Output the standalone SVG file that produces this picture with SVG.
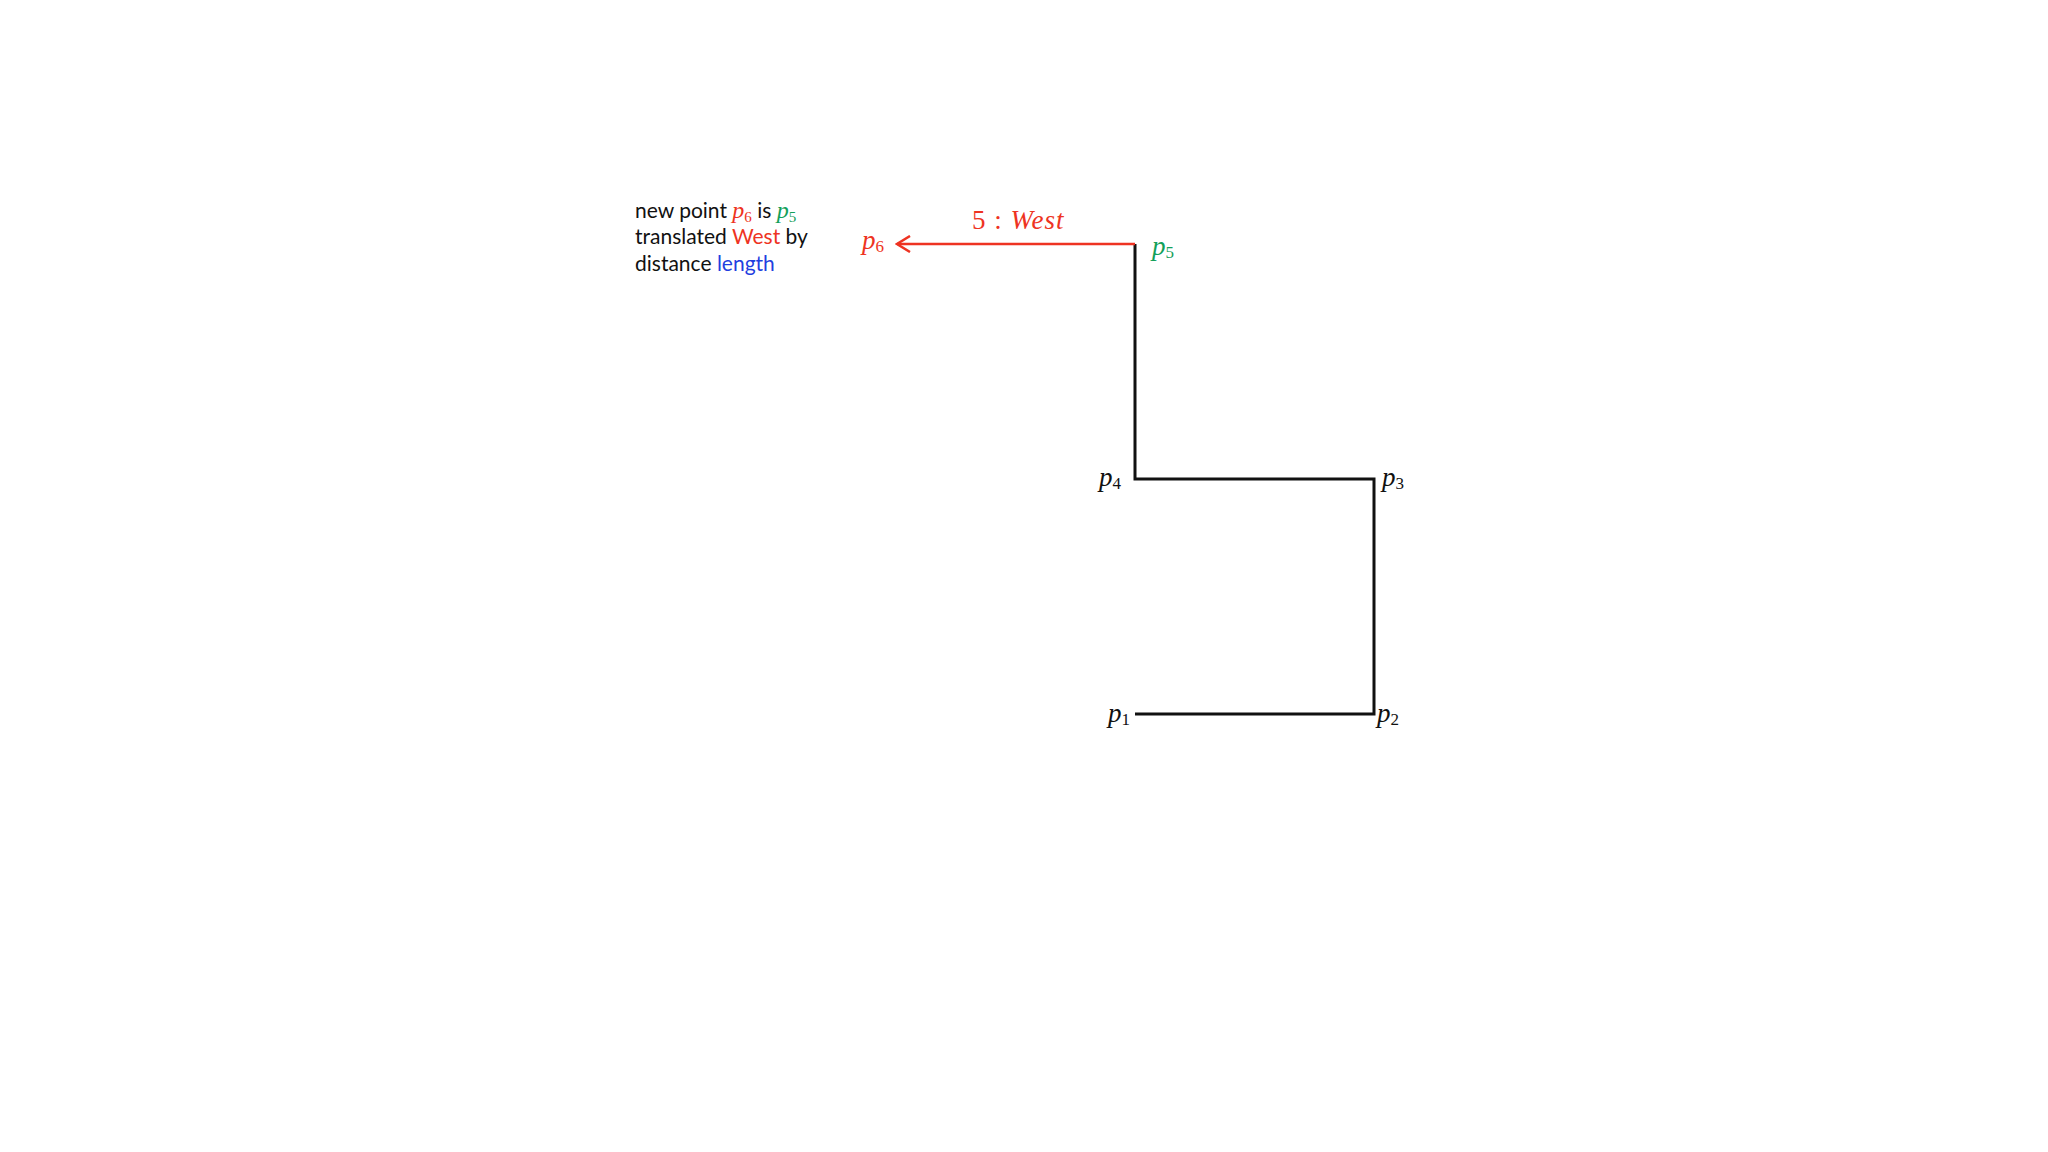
<svg xmlns="http://www.w3.org/2000/svg" width="2048" height="1152" viewBox="0 0 2048 1152">
<style>
.txt{font-family:Lato,"Open Sans",sans-serif;font-size:21px;fill:#111}
.m{font-family:"Liberation Serif","DejaVu Serif",serif;font-style:italic}
.sub{font-family:"Liberation Serif","DejaVu Serif",serif;font-style:normal;font-size:17px}
.lbl{font-family:"Liberation Serif","DejaVu Serif",serif;font-size:27px;fill:#111}
.red{fill:#EE3322}
.green{fill:#13A05A}
.blue{fill:#1F3FE0}
.path{fill:none;stroke:#111;stroke-width:3}
.arrow{fill:none;stroke:#EE3322;stroke-width:2.5}
</style>
<defs>
<marker id="open" markerWidth="16" markerHeight="18" refX="14" refY="9" orient="auto" markerUnits="userSpaceOnUse">
<path d="M1,1 L14,9 L1,17" fill="none" stroke="#EE3322" stroke-width="2.5"/>
</marker>
</defs>
<rect width="2048" height="1152" fill="#fff"/>
<g id="description">
<text class="txt" x="635" y="218">new point <tspan class="m red" font-size="24">p</tspan><tspan class="red" font-family="Liberation Serif" font-size="15" dy="4">6</tspan><tspan dy="-4"> is </tspan><tspan class="m green" font-size="24">p</tspan><tspan class="green" font-family="Liberation Serif" font-size="15" dy="4">5</tspan></text>
<text class="txt" x="635" y="244">translated <tspan class="red">West</tspan> by</text>
<text class="txt" x="635" y="271">distance <tspan class="blue">length</tspan></text>
</g>
<g id="connectors">
<polyline class="path" points="1135,714 1374,714 1374,479 1135,479 1135,244"/>
<line class="arrow" x1="1135" y1="244" x2="897" y2="244" marker-end="url(#open)"/>
</g>
<g id="edge-label">
<text class="lbl red" x="972" y="229" letter-spacing="1"><tspan font-style="normal">5 : </tspan><tspan class="m">West</tspan></text>
</g>
<g id="p1"><text class="lbl" x="1108" y="722"><tspan class="m">p</tspan><tspan class="sub" dy="3">1</tspan></text></g>
<g id="p2"><text class="lbl" x="1377" y="722"><tspan class="m">p</tspan><tspan class="sub" dy="3">2</tspan></text></g>
<g id="p3"><text class="lbl" x="1382" y="486"><tspan class="m">p</tspan><tspan class="sub" dy="3">3</tspan></text></g>
<g id="p4"><text class="lbl" x="1099" y="486"><tspan class="m">p</tspan><tspan class="sub" dy="3">4</tspan></text></g>
<g id="p5"><text class="lbl green" x="1152" y="255"><tspan class="m">p</tspan><tspan class="sub" dy="3">5</tspan></text></g>
<g id="p6"><text class="lbl red" x="862" y="249"><tspan class="m">p</tspan><tspan class="sub" dy="3">6</tspan></text></g>
</svg>
